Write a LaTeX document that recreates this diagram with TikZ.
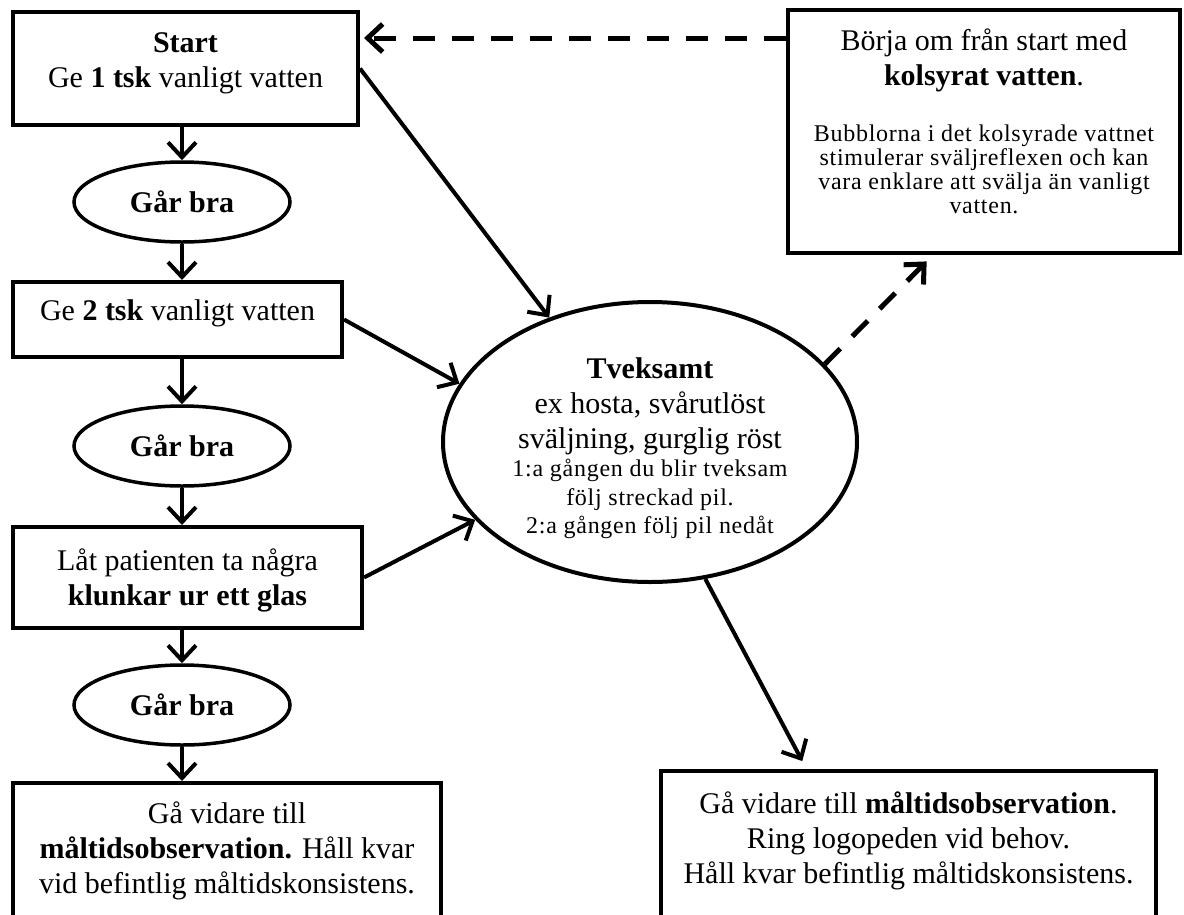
\documentclass[tikz,border=0pt]{standalone}
\usepackage{fontspec}
\setmainfont{Liberation Serif}
\usepackage{tikz}
\usetikzlibrary{shapes,positioning,arrows.meta,calc}

\newcommand{\bigtxt}{\fontsize{30}{35}\selectfont}
\newcommand{\smalltxt}{\fontsize{24}{28.5}\selectfont\addfontfeature{LetterSpace=3}}
\newcommand{\tinytxt}{\fontsize{24}{24}\selectfont\addfontfeature{LetterSpace=3}\lineskiplimit=-30pt}

\begin{document}
\begin{tikzpicture} [x=1pt, y=-1pt,
      every node/.style={execute at begin node={\spaceskip=0pt\xspaceskip=0pt}},
      box/.style={draw, rectangle, line width=4pt, inner sep=0pt, align=flush center, font=\bigtxt},
      okell/.style={draw, ellipse, line width=3.5pt, inner sep=0pt,
        minimum width=216, minimum height=80, font=\bigtxt\bfseries},
      arr/.style={line width=4pt, -{Straight Barb[length=15pt, width=28pt]}},
      dasharr/.style={arr, line width=5pt, dash pattern=on 22pt off 17pt}]

      \useasboundingbox (0,0) rectangle (1184,914);
      \clip (0,0) rectangle (1184,914);

      \node[box, minimum width=345, minimum height=113, text width=335,
        text height=40, text depth=73] (start) at (185.5,68.5)
        {\textbf{Start}\\ Ge \textbf{1 tsk} vanligt vatten};
      \node[okell] (ok1) at (182,202) {Går bra};
      \node[box, minimum width=329, minimum height=75, text width=320,
        text height=38, text depth=37] (two) at (177.5,319.5)
        {Ge \textbf{2 tsk} vanligt vatten};
      \node[okell] (ok2) at (182,446) {Går bra};
      \node[box, minimum width=349, minimum height=101, text width=340,
        text height=43, text depth=58] (sip) at (187.5,577.5)
        {Låt patienten ta några\\ \textbf{klunkar ur ett glas}};
      \node[okell] (ok3) at (182,705) {Går bra};
      \node[box, minimum width=428, minimum height=160, text width=420,
        text height=40, text depth=120] (meall) at (227,863)
        {Gå vidare till\\ \textbf{måltidsobservation.} Håll kvar\\ vid befintlig måltidskonsistens.};

      \node[draw, ellipse, line width=4pt, inner sep=0pt, minimum width=414,
        minimum height=280, text width=290, text height=33, align=flush center,
        font=\bigtxt] (doubt) at (650,442)
        {\textbf{Tveksamt}\\ ex hosta, svårutlöst\\ sväljning, gurglig röst\par
        \smalltxt 1:a gången du blir tveksam\\ följ streckad pil.\\ 2:a gången följ pil nedåt\par};

      \node[box, minimum width=392, minimum height=243, text width=382,
        text height=40, text depth=203] (restart) at (984,131.5)
        {Börja om från start med\\ \textbf{kolsyrat vatten}.\par\vspace{32pt}
        \tinytxt Bubblorna i det kolsyrade vattnet\\ stimulerar sväljreflexen och kan\\
        vara enklare att svälja än vanligt\\ vatten.\par};
      \node[box, minimum width=495, minimum height=170, text width=485,
        text height=42, text depth=128] (mealr) at (908.5,856)
        {Gå vidare till \textbf{måltidsobservation}.\\ Ring logopeden vid behov.\\
        Håll kvar befintlig måltidskonsistens.};

      \draw[arr] (start.south -| ok1.north) -- (ok1.north);
      \draw[arr] (ok1.south) -- (ok1.south |- two.north);
      \draw[arr] (two.south -| ok2.north) -- (ok2.north);
      \draw[arr] (ok2.south) -- (ok2.south |- sip.north);
      \draw[arr] (sip.south -| ok3.north) -- (ok3.north);
      \draw[arr] (ok3.south) -- (ok3.south |- meall.north);

      \draw[arr] (start.east) -- (doubt.129);
      \draw[arr] (two.east) -- (doubt.163);
      \draw[arr] (sip.east) -- (doubt.204);
      \draw[arr, shorten >=9pt] (doubt.292) -- ([xshift=-102]mealr.north);

      \coordinate (back) at ([yshift=-28]start.north east);
      \draw[dasharr, shorten >=4pt] (restart.west |- back) -- (back);
      \draw[dasharr, shorten >=9pt] (doubt.24) -- ([xshift=-51]restart.south);
    \end{tikzpicture}
\end{document}
